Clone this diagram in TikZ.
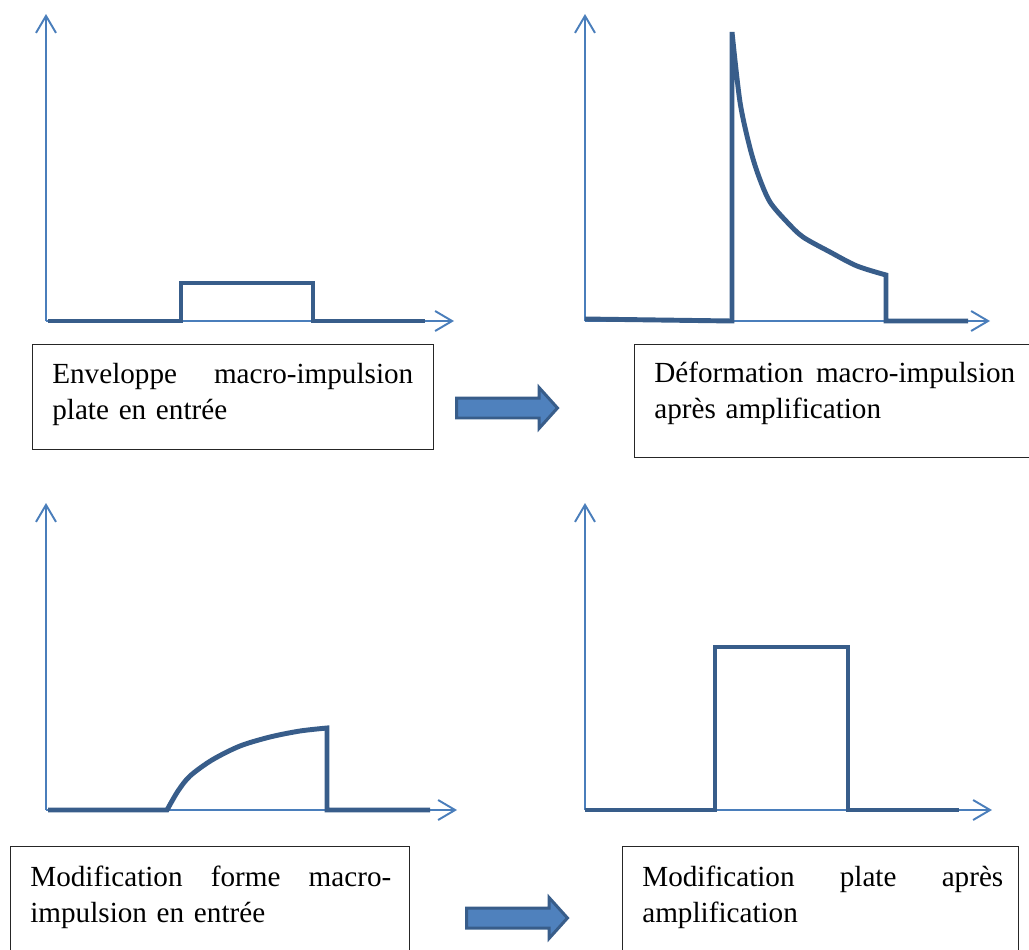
\documentclass[tikz,border=0pt]{standalone}
\usepackage{fontspec}
\setmainfont{Liberation Serif}
\usepackage{tikz}
\usetikzlibrary{positioning,arrows.meta,shapes.arrows}

\definecolor{axisblue}{HTML}{4A7EBB}
\definecolor{pulseblue}{HTML}{385D8A}
\definecolor{arrowfill}{HTML}{4F81BD}

\begin{document}
\begin{tikzpicture}[
    x=0.02cm, y=-0.02cm,
    axis/.style={draw=axisblue, line width=1.1pt,
        -{Straight Barb[length=0.34cm, width=0.4cm]}},
    pulse/.style={draw=pulseblue, line width=2.8pt},
    captionbox/.style={draw=black!85, line width=0.8pt, anchor=north west, inner sep=0pt},
    captiontext/.style={text width=7.22cm, align=left, inner sep=0pt,
        font=\fontsize{16.6}{20.5}\selectfont},
    bigarrow/.style={single arrow, draw=pulseblue, fill=arrowfill, line width=0.06cm,
        minimum height=2.02cm, inner xsep=0pt, inner ysep=0.17cm,
        single arrow head extend=0.21cm, single arrow tip angle=96, anchor=tail}
]
\useasboundingbox (0,0) rectangle (1029,950);

% Flat input envelope
\draw[axis] (46,321) -- (46,14);
\draw[axis] (46,321) -- (454,321);
\draw[pulse] (48,321) -- (181,321) -- (181,283) -- (313,283) -- (313,321) -- (425,321);

% Deformed envelope after amplification
\draw[axis] (585,321) -- (585,14);
\draw[axis] (585,321) -- (990,321);
\draw[pulse] (585,319) -- (732,321) -- (732,32)
    -- plot[smooth, tension=0.5] coordinates {(732,32) (740,102) (750,148) (759,177) (770,202)
       (787,222) (803,237) (830,252) (857,266) (886,275)}
    -- (886,321) -- (968,321);

% Shaped input envelope
\draw[axis] (46,810) -- (46,503);
\draw[axis] (46,810) -- (457,810);
\draw[pulse] (48,810) -- (167,810)
    -- plot[smooth, tension=0.5] coordinates {(167,810) (178,791) (190,776) (212,760) (240,746)
       (270,737) (300,731) (327,728)}
    -- (327,810) -- (430,810);

% Flat envelope after amplification
\draw[axis] (585,810) -- (585,503);
\draw[axis] (585,810) -- (992,810);
\draw[pulse] (585,810) -- (715,810) -- (715,647) -- (848,647) -- (848,810) -- (959,810);

% Caption boxes
\node[captionbox, minimum width=8.02cm, minimum height=2.1cm] (box1) at (32,344) {};
\node[captiontext, below right=0.37cm and 0.4cm of box1.north west] (text1)
{Enveloppe\hfill macro-impulsion\\plate en entrée};

\node[captionbox, minimum width=8.1cm, minimum height=2.26cm] (box2) at (634,344) {};
\node[captiontext, below right=0.36cm and 0.4cm of box2.north west] (text2)
{Déformation\hfill macro-impulsion\\après amplification};

\node[captionbox, minimum width=7.98cm, minimum height=2.2cm] (box3) at (10,846) {};
\node[captiontext, below right=0.39cm and 0.4cm of box3.north west] (text3)
{Modification\hfill forme\hfill macro-\\impulsion en entrée};

\node[captionbox, minimum width=7.92cm, minimum height=2.2cm] (box4) at (622,846) {};
\node[captiontext, below right=0.39cm and 0.4cm of box4.north west] (text4)
{Modification\hfill plate\hfill après\\amplification};

% Block arrows
\node[bigarrow] (arrow1) at (455,408) {};
\node[bigarrow] (arrow2) at (465,918) {};

\end{tikzpicture}
\end{document}
